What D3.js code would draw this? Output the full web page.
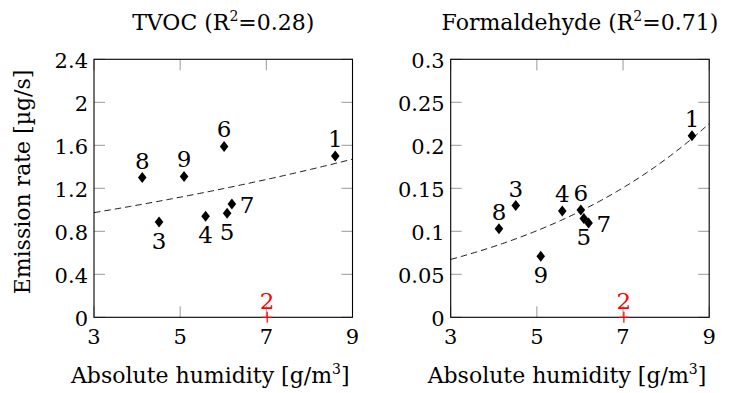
<!DOCTYPE html>
<html><head><meta charset="utf-8">
<script src="https://cdn.jsdelivr.net/npm/d3@7"></script>
<style>
body{margin:0;background:#fff;}
svg text{font-family:'DejaVu Serif','Liberation Serif',serif !important;}
</style></head>
<body><svg id="c" width="734" height="393" font-family="'DejaVu Serif', 'Liberation Serif', serif"></svg>
<script>
// ---- data ----
const ids = ["1","2","3","4","5","6","7","8","9"];
const humidity = [8.60, 7.02, 4.51, 5.59, 6.09, 6.02, 6.20, 4.12, 5.09];
const tvoc = [1.50, 0, 0.886, 0.94, 0.967, 1.59, 1.054, 1.30, 1.31];
const formaldehyde = [0.2112, 0, 0.130, 0.1236, 0.115, 0.1248, 0.1097, 0.103, 0.0709];
const outlier = [false, true, false, false, false, false, false, false, false];
const tvocLabelPos = ["above","above","below","below","below","above","right","above","above"];
const formLabelPos = ["above","above","above","above","below","above","right","above","below"];
const xTicks = [3,5,7,9];
const tvocTicks = [0,0.4,0.8,1.2,1.6,2,2.4];
const formTicks = [0,0.05,0.1,0.15,0.2,0.25,0.3];
const tvocTickLabels = ["0","0.4","0.8","1.2","1.6","2","2.4"];
const formTickLabels = ["0","0.05","0.1","0.15","0.2","0.25","0.3"];
// exponential fit y = a*exp(b*x)
const tvocFit = {a:0.792, b:0.0688};
const formFit = {a:0.0368, b:0.2013};

const svg = d3.select("#c");

function panel(opt){
  const g = svg.append("g");
  const x = d3.scaleLinear().domain([3,9]).range([opt.left, opt.left+258.5]);
  const y = d3.scaleLinear().domain(opt.ydom).range([317.3, 59.3]);
  const top = 59.3, bot = 317.3, L = opt.left, R = opt.left+258.5;
  const tl = 11, tc = "#999";
  xTicks.forEach(t=>{
    g.append("line").attr("x1",x(t)).attr("x2",x(t)).attr("y1",bot).attr("y2",bot-tl).attr("stroke",tc).attr("stroke-width",1);
    g.append("line").attr("x1",x(t)).attr("x2",x(t)).attr("y1",top).attr("y2",top+tl).attr("stroke",tc).attr("stroke-width",1);
    g.append("text").attr("x",x(t)).attr("y",bot+27).attr("text-anchor","middle").attr("font-size",21).text(t);
  });
  opt.yticks.forEach((t,i)=>{
    g.append("line").attr("x1",L).attr("x2",L+tl).attr("y1",y(t)).attr("y2",y(t)).attr("stroke",tc).attr("stroke-width",1);
    g.append("line").attr("x1",R).attr("x2",R-tl).attr("y1",y(t)).attr("y2",y(t)).attr("stroke",tc).attr("stroke-width",1);
    g.append("text").attr("x",L-6).attr("y",y(t)+9).attr("text-anchor","end").attr("font-size",21).text(opt.ytickLabels[i]);
  });
  g.append("rect").attr("x",L).attr("y",top).attr("width",R-L).attr("height",bot-top)
    .attr("fill","none").attr("stroke","#000").attr("stroke-width",1.1);
  const xs = d3.range(3,9.0001,0.05);
  g.append("path").datum(xs)
    .attr("d", d3.line().x(v=>x(v)).y(v=>y(opt.fit.a*Math.exp(opt.fit.b*v))))
    .attr("fill","none").attr("stroke","#000").attr("stroke-width",0.9).attr("stroke-dasharray","6.5,4");
  humidity.forEach((h,i)=>{
    const px = x(h), py = y(opt.vals[i]);
    if(outlier[i]){
      g.append("path").attr("d",`M${px-5},${py}H${px+5}M${px},${py-5.5}V${py+5.5}`)
        .attr("stroke","#f00").attr("stroke-width",1.2).attr("fill","none");
    } else {
      g.append("path").attr("d",`M${px},${py-5.5}L${px+4.3},${py}L${px},${py+5.5}L${px-4.3},${py}Z`).attr("fill","#000");
    }
    const pos = opt.labels[i];
    let lx = px, ly = py-9, anchor="middle";
    if(pos==="below"){ ly = py+27; }
    if(pos==="right"){ lx = px+8; ly = py+9; anchor="start"; }
    if(outlier[i]) ly = py-8;
    g.append("text").attr("x",lx).attr("y",ly).attr("text-anchor",anchor).attr("font-size",23)
      .style("fill", outlier[i] ? "#f00" : "#000").text(ids[i]);
  });
  const tt = g.append("text").attr("x",(L+R)/2).attr("y",30).attr("text-anchor","middle").attr("font-size",22);
  tt.append("tspan").text(opt.title+" (R");
  tt.append("tspan").attr("dy",-9).attr("font-size",14).text("2");
  tt.append("tspan").attr("dy",9).text("="+opt.r2+")");
  const xl = g.append("text").attr("x",(L+R)/2 - 13).attr("y",383).attr("text-anchor","middle").attr("font-size",22);
  xl.append("tspan").text("Absolute humidity [g/m");
  xl.append("tspan").attr("dy",-9).attr("font-size",14).text("3");
  xl.append("tspan").attr("dy",9).text("]");
}

panel({left:94, ydom:[0,2.4], yticks:tvocTicks, ytickLabels:tvocTickLabels, vals:tvoc, labels:tvocLabelPos, fit:tvocFit, title:"TVOC", r2:"0.28"});
panel({left:450.7, ydom:[0,0.3], yticks:formTicks, ytickLabels:formTickLabels, vals:formaldehyde, labels:formLabelPos, fit:formFit, title:"Formaldehyde", r2:"0.71"});

svg.append("text").attr("transform","translate(30,182) rotate(-90)").attr("text-anchor","middle")
  .attr("font-size",22).text("Emission rate [µg/s]");
</script></body></html>
